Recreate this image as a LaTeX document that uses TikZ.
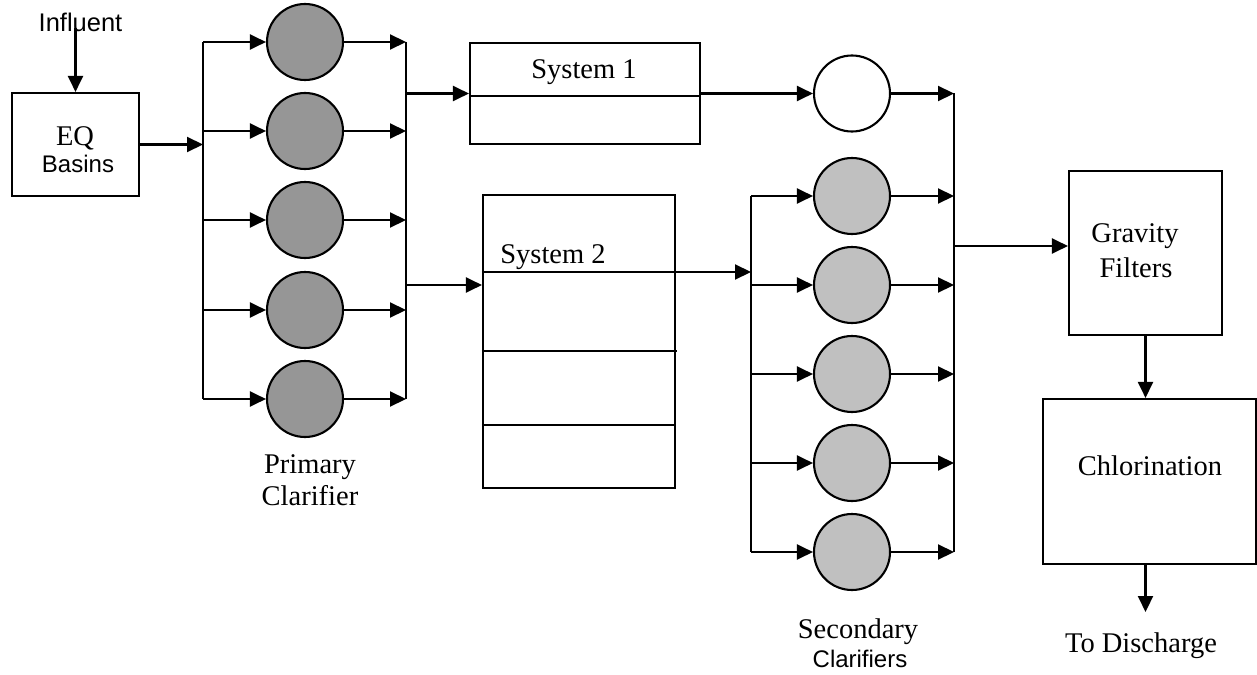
\documentclass[tikz,border=0pt]{standalone}
\usepackage{fontspec}
\setmainfont{Liberation Serif}
\newfontfamily\arialf{Liberation Sans}
\usetikzlibrary{arrows.meta}
\definecolor{pgray}{RGB}{150,150,150}
\definecolor{sgray}{RGB}{192,192,192}
\begin{document}
\begin{tikzpicture}[x=1pt,y=-1pt,line width=2.1pt,
  arr/.style={line width=2.1pt,-{Triangle[length=16pt,width=15pt]}},
  box/.style={draw,rectangle,inner sep=0pt},
  pc/.style={draw,circle,fill=pgray,minimum size=76pt,inner sep=0pt},
  sc/.style={draw,circle,fill=sgray,minimum size=76pt,inner sep=0pt},
  wc/.style={draw,circle,fill=white,minimum size=76pt,inner sep=0pt},
  serlab/.style={anchor=base,inner sep=0pt,font=\fontsize{28.5}{30}\selectfont},
  sanlab/.style={anchor=base,inner sep=0pt,font=\arialf\fontsize{24}{26}\selectfont}]
\useasboundingbox (0,0) rectangle (1257,674);

% Influent and EQ basins
\node[sanlab,font=\arialf\fontsize{25.5}{27}\selectfont] (inflab) at (80.5,32) {Influent};
\coordinate (inf) at (75.5,28);
\node[box,minimum width=127pt,minimum height=103pt] (eq) at (75.5,144.5) {};
\node[serlab] (eqt) at (75,146) {EQ};
\node[sanlab] (eqb) at (78,172) {Basins};
\draw[arr] (inf) -- (eq.north);

% Primary clarifiers
\coordinate (pin) at (203,144.5);
\draw[arr] (eq.east) -- (pin);
\foreach \i/\y in {1/42,2/131,3/220,4/310,5/399}{
  \node[pc] (p\i) at (305,\y) {};
  \coordinate (pl\i) at (203,\y);
  \coordinate (pr\i) at (406,\y);
  \draw[arr] (pl\i) -- (p\i);
  \draw[arr] (p\i) -- (pr\i);
}
\draw (pl1) -- (pl5);
\draw (pr1) -- (pr5);
\node[serlab] (prim) at (310,473) {Primary};
\node[serlab] (clar) at (310,505) {Clarifier};

% System 1
\node[box,minimum width=230pt,minimum height=101pt] (sys1) at (585,93.5) {};
\node[serlab] (sys1t) at (584,79) {System 1};
\draw (sys1.west |- 0,96) -- (sys1.east |- 0,96);
\coordinate (po1) at (406,93.5);
\draw[arr] (po1) -- (sys1.west);

% System 2
\node[box,minimum width=192pt,minimum height=293pt] (sys2) at (579,341.5) {};
\node[serlab] (sys2t) at (553,263) {System 2};
\coordinate (po2) at (406,285);
\draw[arr] (po2) -- (po2 -| sys2.west);
\draw (sys2.west |- 0,351) -- (677,351);
\draw (sys2.west |- 0,425) -- (sys2.east |- 0,425);

% White clarifier on System 1
\node[wc] (w) at (852,93.5) {};
\coordinate (sr0) at (954,93.5);
\draw[arr] (sys1.east) -- (w);
\draw[arr] (w) -- (sr0);

% Secondary clarifiers
\foreach \i/\y in {1/196,2/285,3/374,4/463,5/552}{
  \node[sc] (s\i) at (852,\y) {};
  \coordinate (sl\i) at (751,\y);
  \coordinate (sr\i) at (954,\y);
  \draw[arr] (sl\i) -- (s\i);
  \draw[arr] (s\i) -- (sr\i);
}
\draw (sl1) -- (sl5);
\draw (sr0) -- (sr5);
\coordinate (s2a) at (sys2.west |- 0,272);
\coordinate (slin) at (751,272);
\draw[arr] (s2a) -- (slin);
\node[serlab] (sec) at (858,638) {Secondary};
\node[sanlab] (secc) at (860,667) {Clarifiers};

% Gravity filters, chlorination
\node[box,minimum width=153pt,minimum height=164pt] (grav) at (1145.5,253) {};
\node[serlab] (gravt) at (1135,242) {Gravity};
\node[serlab] (gravf) at (1136,277) {Filters};
\coordinate (so) at (954,246);
\draw[arr] (so) -- (so -| grav.west);

\node[box,minimum width=213pt,minimum height=165pt] (chl) at (1149.5,481.5) {};
\node[serlab] (chlt) at (1150,475) {Chlorination};
\draw[arr] (grav.south) -- (grav.south |- chl.north);
\coordinate (dis) at (1145.5,612);
\draw[arr] (grav.south |- chl.south) -- (dis);
\node[serlab] (dist) at (1141,652) {To Discharge};
\end{tikzpicture}
\end{document}
